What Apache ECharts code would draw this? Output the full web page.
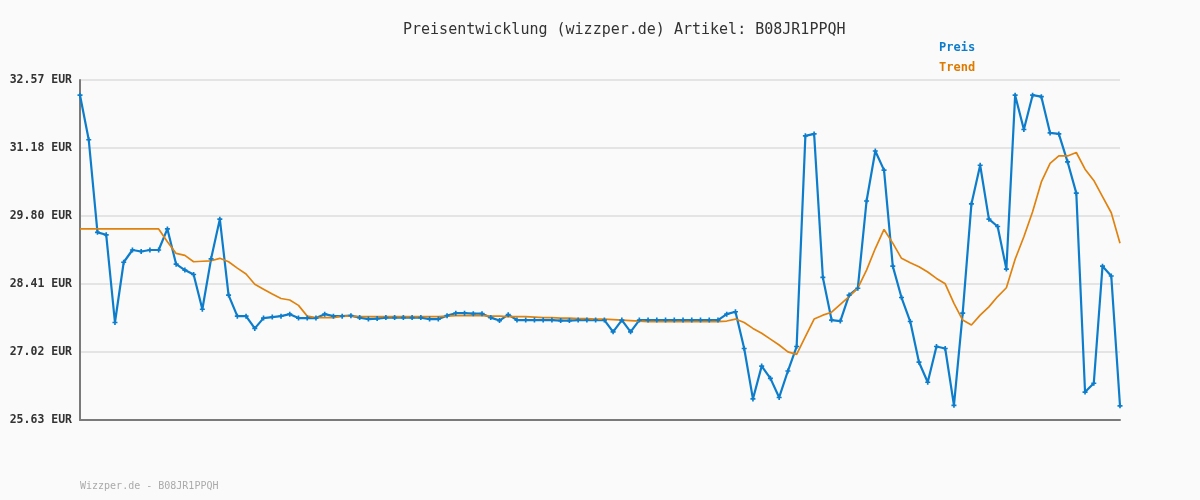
<!DOCTYPE html>
<html>
<head>
<meta charset="utf-8">
<script src="https://cdn.jsdelivr.net/npm/echarts@6/dist/echarts.min.js"></script>
<style>html,body{margin:0;padding:0;background:#fafafa;}#c{width:1200px;height:500px;}</style>
</head>
<body>
<div id="c"></div>
<script>
const titleText = 'Preisentwicklung (wizzper.de) Artikel: B08JR1PPQH';
const footerText = 'Wizzper.de - B08JR1PPQH';
const tickLabels = ['25.63', '27.02', '28.41', '29.80', '31.18', '32.57'];
const preis = [
32.26,31.35,29.46,29.41,27.62,28.85,29.10,29.07,29.10,29.10,
29.53,28.81,28.69,28.60,27.89,28.92,29.73,28.18,27.75,27.75,
27.50,27.71,27.73,27.75,27.79,27.71,27.71,27.71,27.79,27.75,
27.75,27.76,27.72,27.69,27.70,27.72,27.72,27.72,27.72,27.72,
27.69,27.69,27.76,27.81,27.81,27.80,27.80,27.72,27.66,27.78,
27.67,27.67,27.67,27.67,27.67,27.66,27.66,27.67,27.67,27.67,
27.67,27.43,27.67,27.43,27.67,27.67,27.67,27.67,27.67,27.67,
27.67,27.67,27.67,27.67,27.79,27.84,27.09,26.06,26.73,26.48,
26.09,26.63,27.13,31.43,31.47,28.54,27.67,27.65,28.18,28.32,
30.10,31.12,30.73,28.77,28.13,27.64,26.81,26.40,27.13,27.09,
25.93,27.81,30.04,30.83,29.73,29.58,28.71,32.26,31.56,32.26,
32.23,31.49,31.47,30.90,30.26,26.20,26.38,28.77,28.57,25.92
];
const trend = [
29.53,29.53,29.53,29.53,29.53,29.53,29.53,29.53,29.53,29.53,
29.27,29.03,28.99,28.86,28.87,28.88,28.93,28.86,28.73,28.61,
28.40,28.30,28.20,28.11,28.08,27.97,27.75,27.72,27.72,27.72,
27.75,27.75,27.74,27.74,27.74,27.74,27.74,27.74,27.74,27.74,
27.74,27.74,27.75,27.76,27.76,27.76,27.76,27.75,27.75,27.74,
27.74,27.74,27.73,27.72,27.72,27.71,27.71,27.70,27.70,27.69,
27.69,27.68,27.67,27.66,27.65,27.64,27.64,27.64,27.64,27.64,
27.64,27.64,27.64,27.64,27.65,27.69,27.62,27.50,27.40,27.28,
27.16,27.02,26.97,27.33,27.69,27.77,27.83,27.99,28.15,28.32,
28.69,29.13,29.52,29.24,28.93,28.84,28.76,28.65,28.52,28.41,
28.01,27.67,27.57,27.77,27.94,28.15,28.33,28.91,29.37,29.88,
30.49,30.87,31.02,31.02,31.09,30.75,30.52,30.19,29.86,29.24
];
const categories = preis.map((_, i) => String(i + 1));

const chart = echarts.init(document.getElementById('c'));
const mono = '"DejaVu Sans Mono", "Liberation Mono", monospace';
chart.setOption({
  backgroundColor: '#fafafa',
  animation: false,
  title: {
    text: titleText, left: 398, top: 18,
    textStyle: {fontFamily: mono, fontSize: 15, fontWeight: 'normal', color: '#333'}
  },
  legend: {
    orient: 'vertical', left: 929, top: 37, itemGap: 8,
    icon: 'rect', itemWidth: 0, itemHeight: 0,
    data: [
      {name: 'Preis', textStyle: {color: '#0d7dcb'}},
      {name: 'Trend', textStyle: {color: '#dd7a00'}}
    ],
    textStyle: {fontFamily: mono, fontSize: 12, fontWeight: 'bold'}
  },
  grid: {left: 80, right: 80, top: 80, bottom: 80, containLabel: false},
  xAxis: {
    type: 'category', data: categories, boundaryGap: false,
    axisLine: {lineStyle: {color: '#7a7a7a', width: 2}},
    axisTick: {show: false}, axisLabel: {show: false}, splitLine: {show: false}
  },
  yAxis: {
    type: 'value', min: 25.63, max: 32.57, interval: 1.388,
    axisLine: {show: true, lineStyle: {color: '#7a7a7a', width: 2}},
    axisTick: {show: false},
    axisLabel: {
      formatter: (v, i) => tickLabels[i] + ' EUR',
      fontFamily: mono, fontSize: 11.5, fontWeight: 'bold', color: '#333', margin: 8
    },
    splitLine: {lineStyle: {color: '#e4e4e4', width: 2}}
  },
  graphic: [{
    type: 'text', left: 80, top: 481,
    style: {text: footerText, fontFamily: mono, fontSize: 10, fill: '#aaaaaa'}
  }],
  series: [
    {
      name: 'Preis', type: 'line', data: preis,
      lineStyle: {color: '#0d7dcb', width: 2.2},
      itemStyle: {color: '#0d7dcb'},
      symbol: 'path://M2,0h2v2h2v2h-2v2h-2v-2h-2v-2h2z', symbolSize: 5,
      showSymbol: true, showAllSymbol: true
    },
    {
      name: 'Trend', type: 'line', data: trend,
      lineStyle: {color: '#e0820e', width: 1.7},
      itemStyle: {color: '#e0820e'},
      symbol: 'none'
    }
  ]
});
</script>
</body>
</html>
